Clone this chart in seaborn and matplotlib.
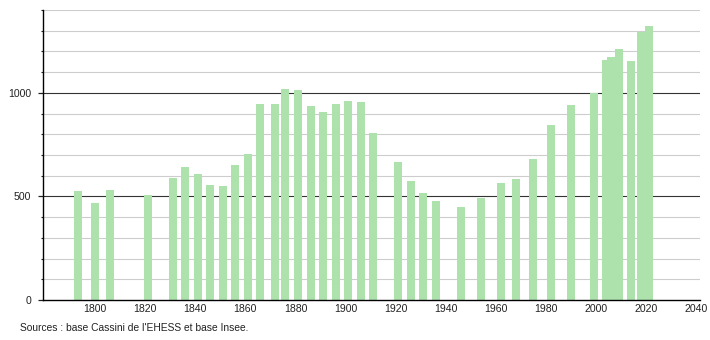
import matplotlib
matplotlib.use("Agg")
import matplotlib.pyplot as plt
import seaborn as sns
import pandas as pd
import numpy as np
from matplotlib.ticker import MultipleLocator, FixedLocator

years = [1793, 1800, 1806, 1821, 1831, 1836, 1841, 1846, 1851, 1856,
         1861, 1866, 1872, 1876, 1881, 1886, 1891, 1896, 1901, 1906,
         1911, 1921, 1926, 1931, 1936, 1946, 1954, 1962, 1968, 1975,
         1982, 1990, 1999, 2004, 2006, 2009, 2014, 2018, 2021]
population = [528, 468, 529, 505, 591, 643, 607, 557, 552, 650,
              707, 948, 944, 1017, 1012, 935, 910, 944, 959, 954,
              804, 668, 576, 518, 479, 450, 494, 567, 586, 683,
              843, 939, 998, 1160, 1175, 1211, 1153, 1295, 1322]
x_ticks = [1800, 1820, 1840, 1860, 1880, 1900, 1920, 1940, 1960, 1980, 2000, 2020, 2040]
y_ticks = [0, 500, 1000]
source_text = "Sources : base Cassini de l'EHESS et base Insee."

sns.set_style("white")
plt.rcParams['font.family'] = ['Liberation Sans', 'DejaVu Sans']

df = pd.DataFrame({"year": years, "population": population})

W, H = 710, 340
fig = plt.figure(figsize=(W / 100, H / 100), dpi=100)
ax = fig.add_axes([43 / W, 1 - 300 / H, (700 - 43) / W, 290 / H])

bar_years = 3.2
min_gap = np.min(np.diff(np.unique(years)))
sns.barplot(data=df, x="year", y="population", native_scale=True,
            width=bar_years / min_gap, color="#ade2ad", saturation=1,
            errorbar=None, linewidth=0, edgecolor="none", ax=ax, zorder=2)

ax.set_xlim(1779.2, 2041.5)
ax.set_ylim(0, 1400)
ax.xaxis.set_major_locator(FixedLocator(x_ticks))
ax.set_xticklabels([str(t) for t in x_ticks])
ax.yaxis.set_major_locator(FixedLocator(y_ticks))
ax.yaxis.set_minor_locator(MultipleLocator(100))
ax.set_yticklabels([str(t) for t in y_ticks])

ax.set_axisbelow(True)
ax.grid(False)
for v in range(100, 1401, 100):
    if v in (500, 1000):
        ax.axhline(v, color="#333333", lw=0.8, zorder=1)
    else:
        ax.axhline(v, color="#cdcdcd", lw=0.8, zorder=1)

for s in ["top", "right"]:
    ax.spines[s].set_visible(False)
for s in ["left", "bottom"]:
    ax.spines[s].set_color("#000000")
    ax.spines[s].set_linewidth(1.0)
    ax.spines[s].set_zorder(3)

ax.tick_params(axis="x", length=0, pad=3, labelsize=7.6, colors="#222222")
ax.tick_params(axis="y", which="major", length=3.6, width=0.9, pad=5,
               labelsize=7.6, colors="#222222", left=True)
ax.tick_params(axis="y", which="minor", length=1.5, width=0.8, left=True,
               color="#222222")
ax.set_xlabel("")
ax.set_ylabel("")

fig.text(20 / W, 1 - 328 / H, source_text, fontsize=7.4, color="#222222",
         va="center", ha="left")

fig.savefig("out.png", dpi=100)
